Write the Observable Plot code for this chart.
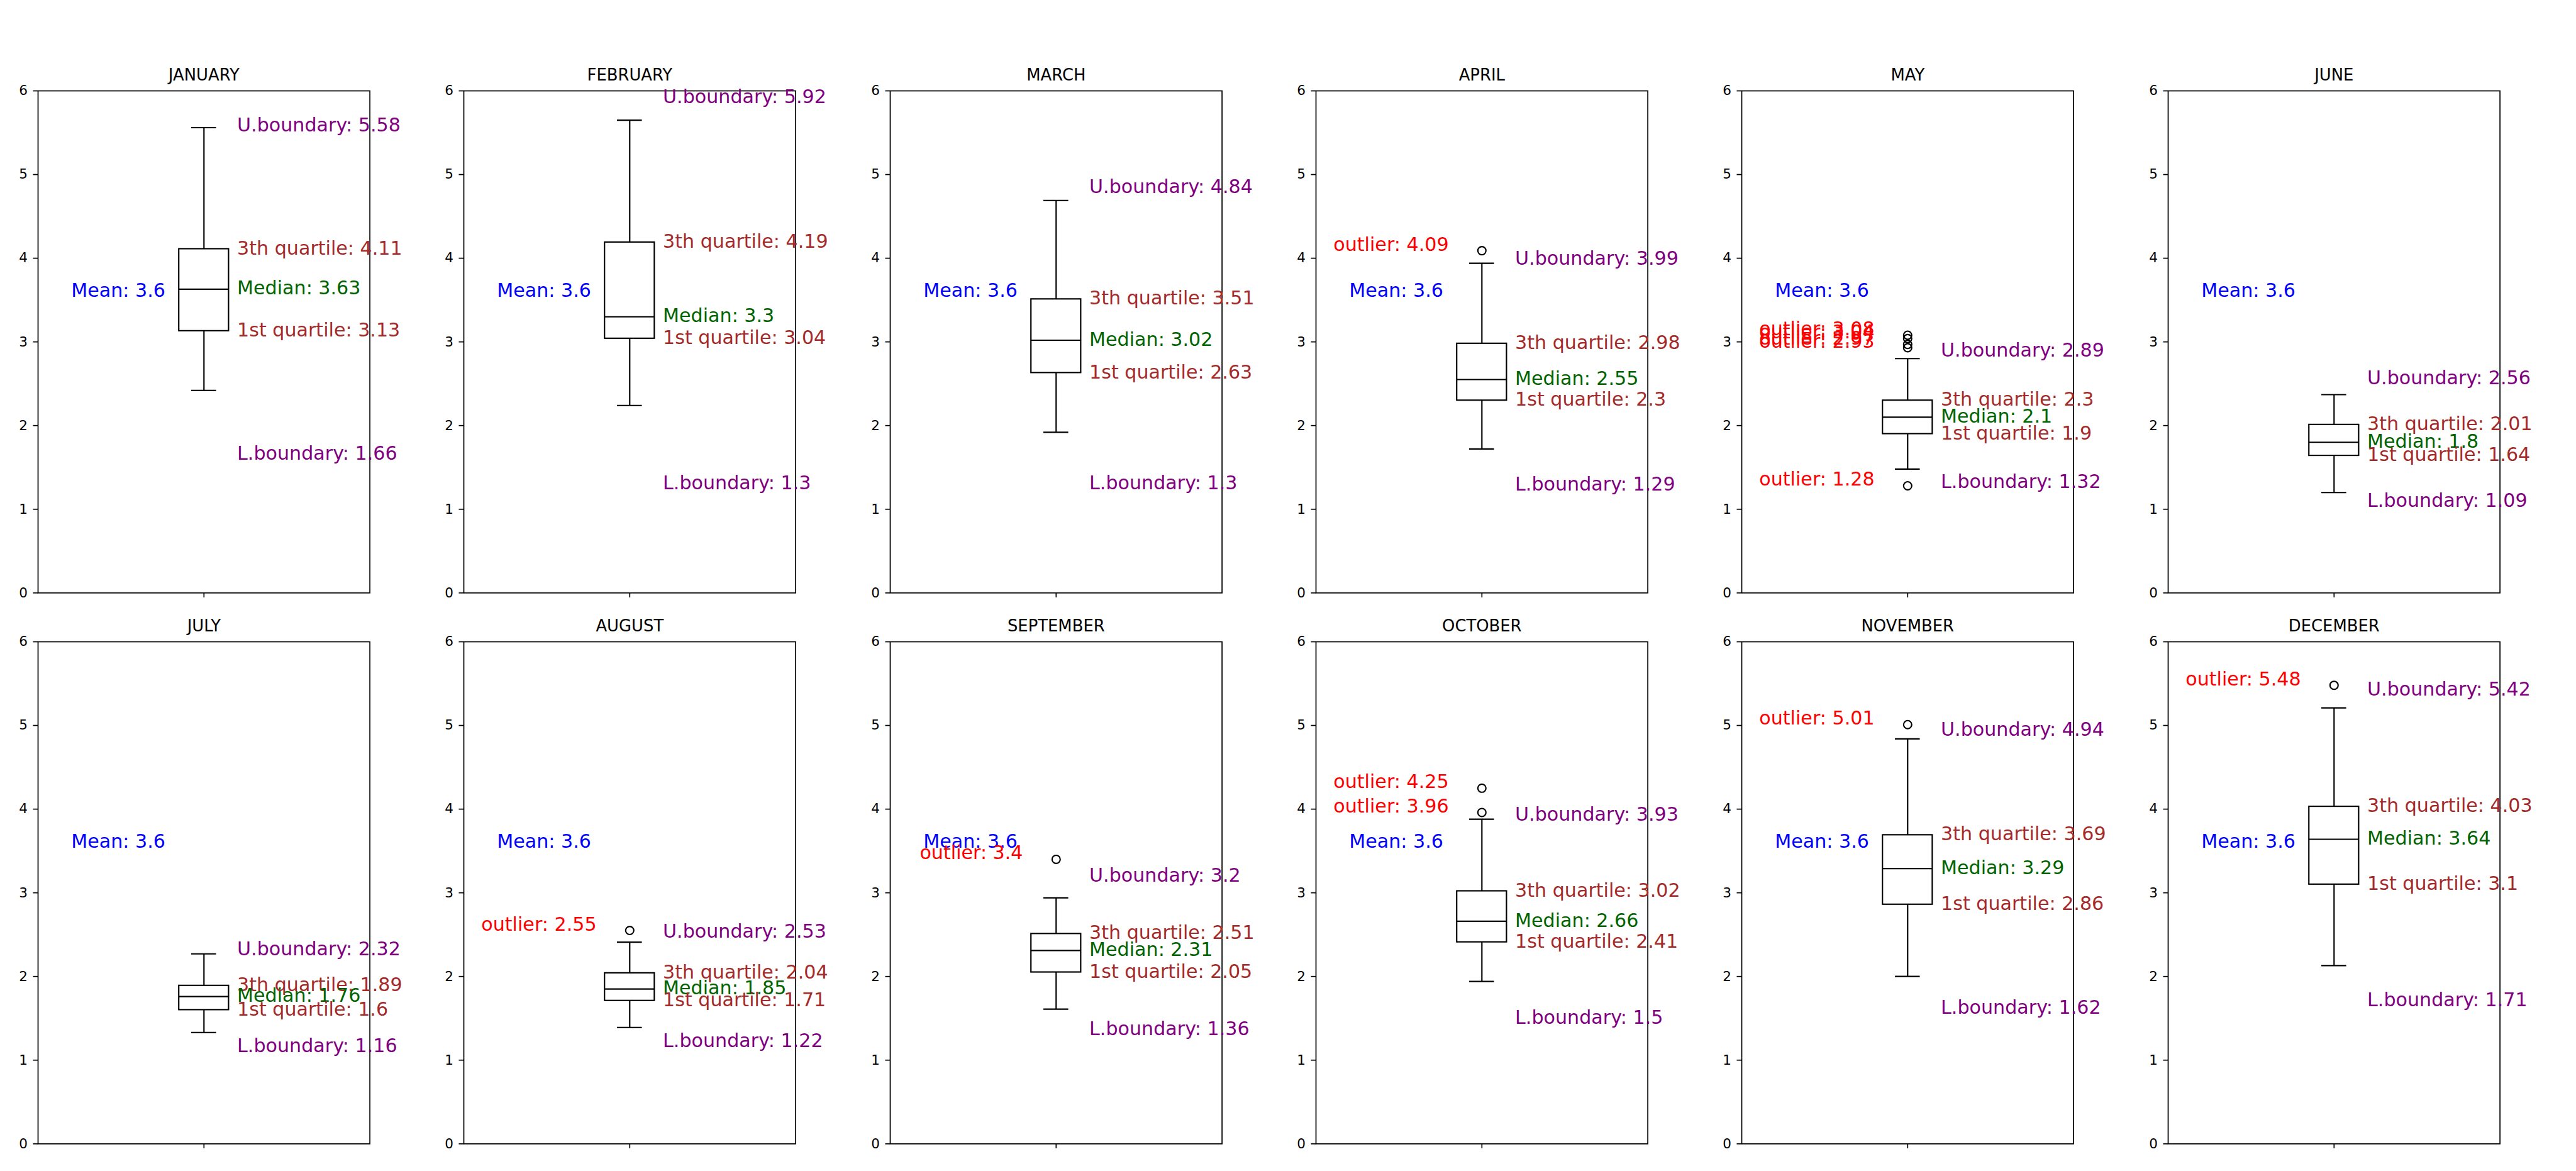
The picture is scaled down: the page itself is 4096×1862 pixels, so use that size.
<!DOCTYPE html>
<html><head><meta charset="utf-8">
<script src="https://cdn.jsdelivr.net/npm/d3@7"></script>
<script src="https://cdn.jsdelivr.net/npm/@observablehq/plot@0.6"></script>
<style>
html,body{margin:0;padding:0;background:#fff;}
#root{position:relative;width:4096px;height:1862px;overflow:hidden;font-family:"DejaVu Sans";background:#fff;}
.panel{position:absolute;}
</style></head><body><div id="root"></div>
<script>
// ---- data ----
const months = ["JANUARY","FEBRUARY","MARCH","APRIL","MAY","JUNE","JULY","AUGUST","SEPTEMBER","OCTOBER","NOVEMBER","DECEMBER"];
const q1 =        [3.13, 3.04, 2.63, 2.3, 1.9, 1.64, 1.6, 1.71, 2.05, 2.41, 2.86, 3.1];
const medians =   [3.63, 3.3, 3.02, 2.55, 2.1, 1.8, 1.76, 1.85, 2.31, 2.66, 3.29, 3.64];
const q3 =        [4.11, 4.19, 3.51, 2.98, 2.3, 2.01, 1.89, 2.04, 2.51, 3.02, 3.69, 4.03];
const upperBounds = [5.58, 5.92, 4.84, 3.99, 2.89, 2.56, 2.32, 2.53, 3.2, 3.93, 4.94, 5.42];
const lowerBounds = [1.66, 1.3, 1.3, 1.29, 1.32, 1.09, 1.16, 1.22, 1.36, 1.5, 1.62, 1.71];
const whiskerHigh = [5.56, 5.65, 4.69, 3.94, 2.80, 2.37, 2.27, 2.41, 2.94, 3.88, 4.84, 5.21];
const whiskerLow =  [2.42, 2.24, 1.92, 1.72, 1.48, 1.20, 1.33, 1.39, 1.61, 1.94, 2.00, 2.13];
const outliers = [[], [], [], [4.09], [3.08, 3.04, 2.97, 2.93, 1.28], [], [], [2.55], [3.4], [4.25, 3.96], [5.01], [5.48]];
const means = [3.6, 3.6, 3.6, 3.6, 3.6, 3.6, 3.6, 3.6, 3.6, 3.6, 3.6, 3.6];
const yTicks = [0, 1, 2, 3, 4, 5, 6];

// ---- layout (reference px * 0.62) ----
const S = 0.62;
const axLeft0 = 96.7 * S, colPitch = 1092.5 * S, axW = 851 * S;
const rowTops = [231.7 * S, 1645 * S], axH = 1287.6 * S;
const mL = 70, mR = 10, mT = 50, mB = 30;
const annSize = 48.6 * S, tickSize = 34.7 * S, titleSize = 41.7 * S;
const lw = 2.15, spine = 1.72;
const boxHalf = 0.075, capHalf = 0.0375;

const root = document.getElementById("root");

months.forEach((name, i) => {
  const col = i % 6, row = Math.floor(i / 6);
  const d = {q1: q1[i], median: medians[i], q3: q3[i], ub: upperBounds[i], lb: lowerBounds[i],
             wh: whiskerHigh[i], wl: whiskerLow[i], mean: means[i]};
  const outs = outliers[i];
  const rightLabels = [
    {y: d.ub, text: `U.boundary: ${d.ub}`, color: "purple"},
    {y: d.q3, text: `3th quartile: ${d.q3}`, color: "brown"},
    {y: d.median, text: `Median: ${d.median}`, color: "darkgreen"},
    {y: d.q1, text: `1st quartile: ${d.q1}`, color: "brown"},
    {y: d.lb, text: `L.boundary: ${d.lb}`, color: "purple"}
  ];
  const W = mL + axW + mR, H = mT + axH + mB;
  const chart = Plot.plot({
    width: W, height: H,
    marginLeft: mL, marginRight: mR, marginTop: mT, marginBottom: mB,
    style: {background: "transparent", overflow: "visible", maxWidth: "none", fontFamily: "DejaVu Sans", color: "black"},
    x: {domain: [0.5, 1.5]},
    y: {domain: [0, 6]},
    marks: [
      Plot.frame({stroke: "black", strokeWidth: spine}),
      Plot.axisY({ticks: yTicks, tickSize: 7.5, tickPadding: 9, fontSize: tickSize, strokeWidth: spine, label: null, tickFormat: v => String(v)}),
      Plot.axisX({ticks: [1], tickSize: 7.5, strokeWidth: spine, tickFormat: () => "", label: null}),
      // whiskers
      Plot.ruleX([d], {x: () => 1, y1: "q3", y2: "wh", stroke: "black", strokeWidth: lw}),
      Plot.ruleX([d], {x: () => 1, y1: "q1", y2: "wl", stroke: "black", strokeWidth: lw}),
      // caps
      Plot.ruleY([d], {y: "wh", x1: () => 1 - capHalf, x2: () => 1 + capHalf, stroke: "black", strokeWidth: lw}),
      Plot.ruleY([d], {y: "wl", x1: () => 1 - capHalf, x2: () => 1 + capHalf, stroke: "black", strokeWidth: lw}),
      // box
      Plot.rect([d], {x1: () => 1 - boxHalf, x2: () => 1 + boxHalf, y1: "q1", y2: "q3", fill: "none", stroke: "black", strokeWidth: lw}),
      Plot.ruleY([d], {y: "median", x1: () => 1 - boxHalf, x2: () => 1 + boxHalf, stroke: "black", strokeWidth: lw}),
      // outliers
      Plot.dot(outs, {x: () => 1, y: v => v, r: 6.46, stroke: "black", strokeWidth: lw, fill: "none"}),
      // annotations
      Plot.text([d], {x: () => 0.6, y: "mean", text: v => `Mean: ${v.mean}`, fill: "blue", fontSize: annSize, textAnchor: "start", lineAnchor: "middle", dy: -1}),
      Plot.text(outs, {x: () => 0.9, y: v => v, text: v => `outlier: ${v}`, fill: "red", fontSize: annSize, textAnchor: "end", lineAnchor: "bottom"}),
      Plot.text(rightLabels, {x: () => 1.1, y: "y", text: "text", fill: v => v.color, fontSize: annSize, textAnchor: "start", lineAnchor: "middle", dy: -1}),
      // title
      Plot.text([name], {frameAnchor: "top", text: v => v, lineAnchor: "bottom", dy: -16.5, fontSize: titleSize, fill: "black"})
    ]
  });
  // fill channel with raw color strings: use scale identity
  const div = document.createElement("div");
  div.className = "panel";
  div.style.left = (axLeft0 + col * colPitch - mL) + "px";
  div.style.top = (rowTops[row] - mT) + "px";
  div.style.width = W + "px";
  div.style.height = H + "px";
  div.appendChild(chart);
  root.appendChild(div);
});
</script>
</body></html>
